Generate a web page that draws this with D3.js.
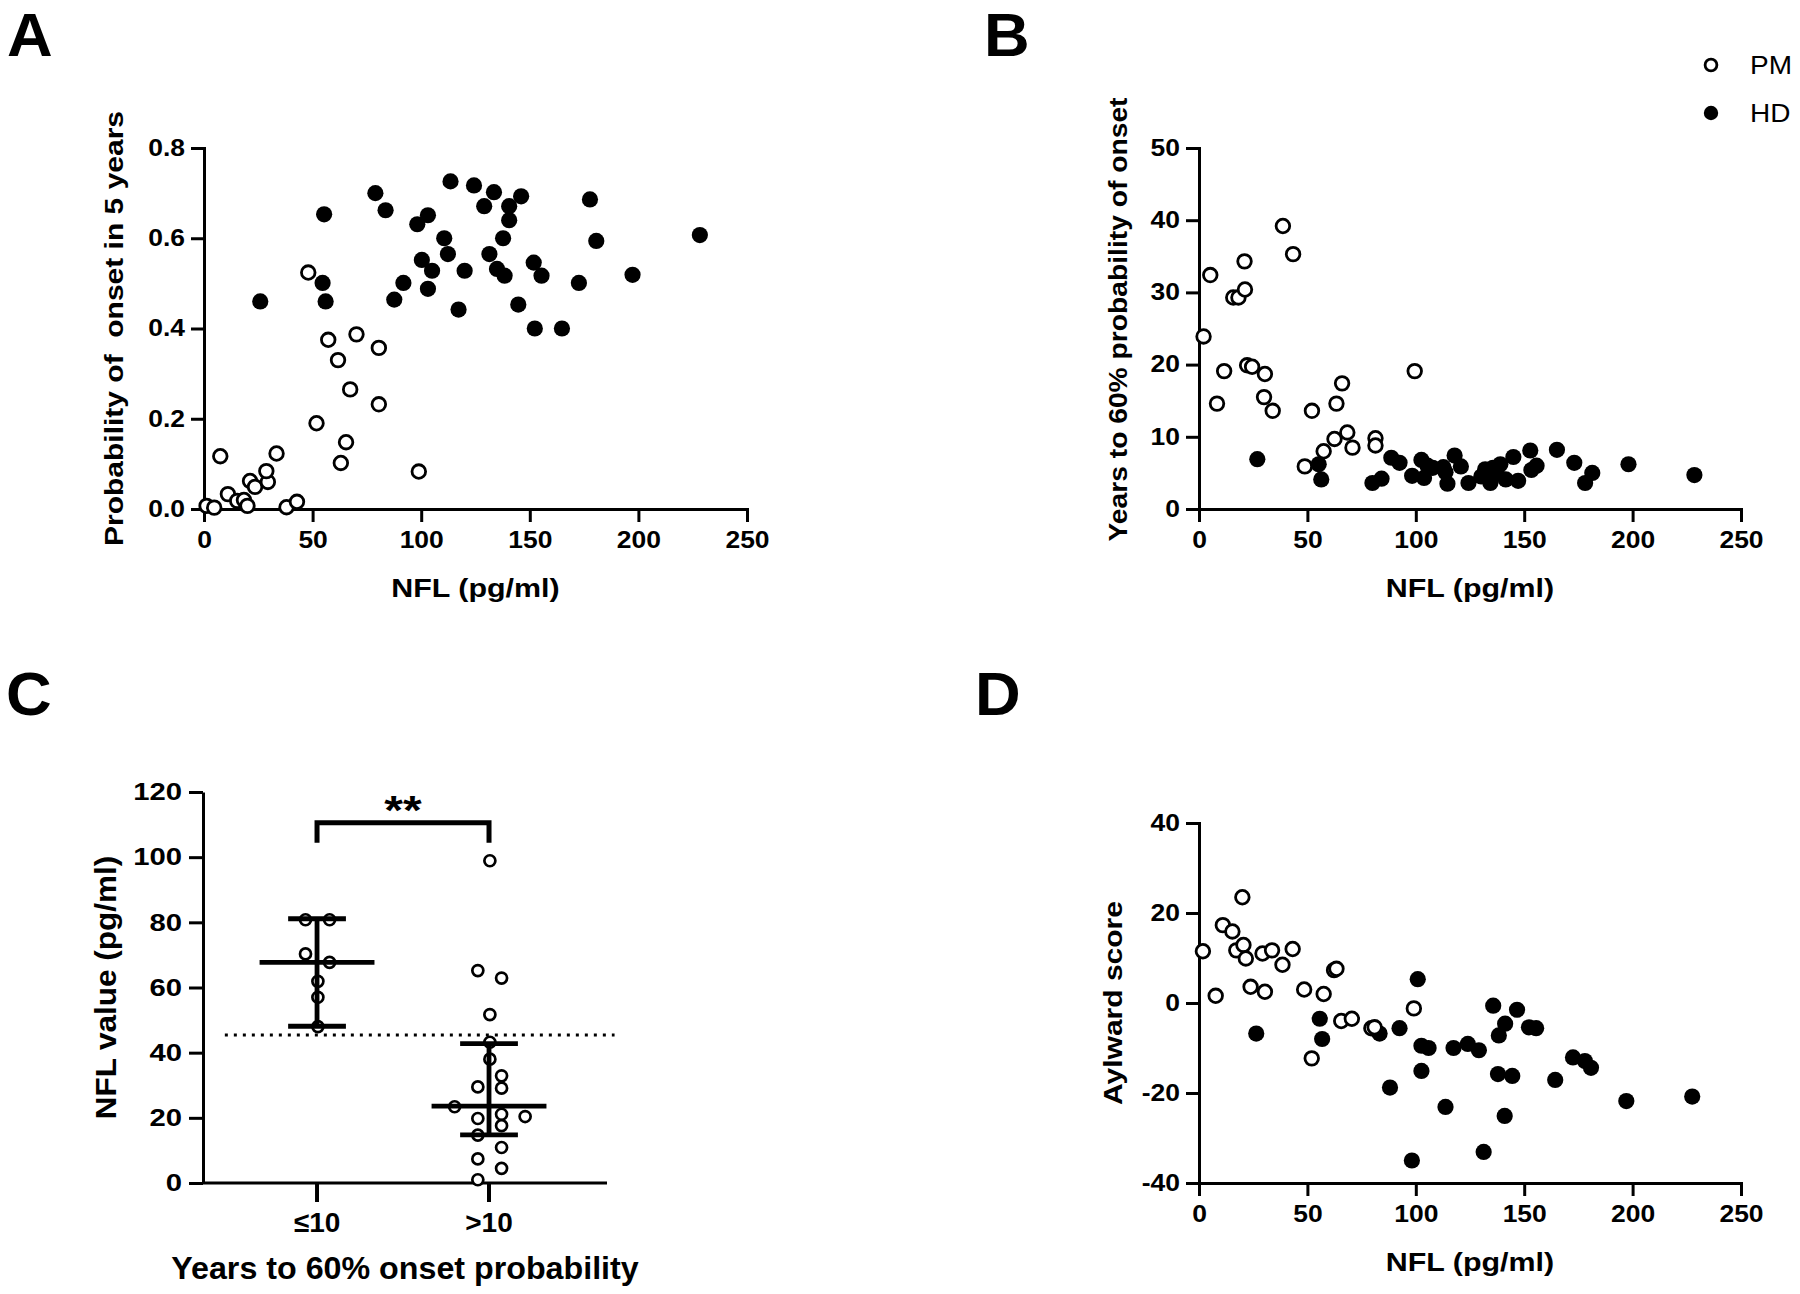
<!DOCTYPE html>
<html><head><meta charset="utf-8">
<script src="https://cdn.jsdelivr.net/npm/d3@7"></script>
<style>body{margin:0;background:#fff}svg{display:block}</style>
</head><body>
<script>
// ---------- DATA ----------
// Panel A: probability of onset in 5 years vs NFL
const aPM_nfl  = [1.2,4.7,7.5,11,15.3,18.4,20,21.2,23.5,29.4,28.7,33.4,38,42.8,48,51.8,57.2,61.7,63,65.4,67.3,70.2,80.5,80.5,98.9];
const aPM_prob = [0.007,0.003,0.117,0.033,0.018,0.02,0.007,0.062,0.049,0.06,0.084,0.123,0.004,0.016,0.524,0.19,0.375,0.33,0.102,0.148,0.265,0.387,0.357,0.232,0.083];
const aHD_nfl  = [25.9,55.3,54.6,56,78.9,83.6,87.6,91.8,98.2,103.1,100.3,105,103.1,110.6,112.3,113.5,117.2,120,124.3,129,131.4,133.5,134.9,138.4,137.7,140.5,140.5,146,144.7,151.8,152.3,155.4,164.8,172.6,177.7,180.6,197.3,228.3];
const aHD_prob = [0.46,0.653,0.501,0.46,0.70,0.662,0.464,0.501,0.631,0.651,0.552,0.528,0.488,0.60,0.565,0.726,0.442,0.528,0.717,0.671,0.565,0.702,0.532,0.517,0.60,0.671,0.64,0.693,0.453,0.546,0.40,0.517,0.40,0.501,0.686,0.594,0.519,0.607];

// Panel B: years to 60% probability of onset vs NFL
const bPM_nfl   = [2.1,5.2,8.3,11.6,15.8,18.2,21,21.2,22.2,24.5,30.4,30,34,38.7,43.4,48.8,52.1,57.5,62.5,63.4,66,68.4,70.8,81.4,81.4,99.5];
const bPM_years = [23.9,32.4,14.6,19.1,29.3,29.3,34.3,30.4,19.9,19.7,18.7,15.5,13.6,39.2,35.3,5.9,13.6,8.0,9.7,14.6,17.4,10.6,8.5,9.8,8.8,19.1];
const bHD_nfl   = [26.9,55.2,56.4,80,84.2,88.7,92.5,98.3,102.6,103.8,105.4,107.8,112.7,113.7,114.6,117.9,120.8,124.3,130.2,132,134.4,135.6,137.3,139,141.5,145,147.2,152.8,153.3,155.7,165.1,173.1,178.1,181.4,198.1,228.5];
const bHD_years = [6.9,6.2,4.1,3.6,4.2,7.1,6.4,4.6,6.8,4.3,6.0,5.7,5.8,5.1,3.5,7.4,5.9,3.6,4.5,5.5,3.6,5.7,5.1,6.2,4.1,7.2,3.9,8.1,5.4,6.0,8.2,6.4,3.6,5.0,6.2,4.7];

// Panel C: NFL value by years to 60% onset probability
const cGroups       = ["\u226410", ">10"];
const cLow_values   = [80.8,80.8,70.3,67.7,61.9,57.0,48.0];
const cLow_jitter   = [-0.067,0.073,-0.067,0.073,0.005,0.005,0.005];
const cHigh_values  = [98.9,65.2,62.9,51.7,43.2,38.0,32.9,29.5,29.1,23.4,19.8,21.1,20.4,17.6,14.7,10.9,7.4,4.5,1.0];
const cHigh_jitter  = [0.005,-0.065,0.073,0.005,0.005,0.005,0.073,-0.065,0.073,-0.2,-0.065,0.073,0.21,0.073,-0.065,0.073,-0.065,0.073,-0.065];
const cMedian       = [67.7, 23.6];
const cLowerBar     = [48.1, 14.8];
const cUpperBar     = [81.1, 42.8];
const cThreshold    = 45.4;
const cBracketTop   = 110.6;
const cBracketEnd   = 104.4;
const cSignif       = "**";

// Panel D: Aylward score vs NFL
const dPM_nfl   = [1.8,7.7,11,15.4,17.2,20,20.5,21.6,23.8,29.3,30.4,33.7,38.5,43.2,48.5,52,57.5,62.3,63.4,65.6,70.5,79.5,81,99.1];
const dPM_score = [11.5,1.6,17.3,15.9,11.7,23.5,12.9,9.9,3.6,11.0,2.5,11.7,8.5,12.0,3.0,-12.3,2.0,7.3,7.6,-4.0,-3.5,-5.6,-5.4,-1.2];
const dHD_nfl   = [26.4,55.7,56.8,83.3,88.1,92.5,98.2,100.9,102.6,102.6,105.9,113.7,117.4,124,129.1,131.3,135.7,138.3,141.2,137.9,141,144.5,146.7,152.2,155.5,164.3,172.5,178,180.8,197.1,227.5];
const dHD_score = [-6.8,-3.5,-8.0,-6.8,-18.8,-5.6,-35.0,5.3,-9.5,-15.1,-10.0,-23.1,-10.0,-9.1,-10.5,-33.1,-0.6,-7.2,-4.6,-15.8,-25.1,-16.2,-1.5,-5.4,-5.6,-17.1,-12.1,-12.9,-14.4,-21.8,-20.8];

// ticks & labels
const nflTicks   = [0,50,100,150,200,250];
const aYTicks    = [0,0.2,0.4,0.6,0.8];
const bYTicks    = [0,10,20,30,40,50];
const cYTicks    = [0,20,40,60,80,100,120];
const dYTicks    = [-40,-20,0,20,40];
const legendLabels = ["PM","HD"];

// ---------- DRAW ----------
const W=1800,H=1294;
const FONT="'Liberation Sans', Arial, Helvetica, sans-serif";
const svg=d3.select("body").append("svg").attr("width",W).attr("height",H)
  .style("font-family",FONT);

// horizontal stretch of text (reference glyphs are wider than Arial)
function stretch(sel,sx,rot){
  sel.each(function(){
    const t=d3.select(this);
    const x=+t.attr("x")||0, y=+t.attr("y")||0;
    t.attr("x",0).attr("y",0)
     .attr("transform",`translate(${x},${y})${rot?` rotate(${rot})`:""} scale(${sx},1)`);
  });
}

function styleAxis(g,fs,sx){
  g.select(".domain").attr("stroke","#000").attr("stroke-width",3);
  g.selectAll(".tick line").attr("stroke","#000").attr("stroke-width",3);
  const t=g.selectAll(".tick text").attr("fill","#000").style("font-size",fs+"px")
    .style("font-weight","bold").style("font-family",FONT);
  stretch(t,sx);
}

const R_OPEN=6.8, R_FILL=8.1, SW=2.8;

function scatterPanel(o){
  const x=d3.scaleLinear().domain([0,250]).range(o.xr);
  const y=d3.scaleLinear().domain(o.yd).range(o.yr);
  const g=svg.append("g");
  const gx=g.append("g").attr("transform",`translate(0,${o.yr[0]})`)
    .call(d3.axisBottom(x).tickValues(nflTicks).tickSize(13).tickSizeOuter(0).tickPadding(10));
  styleAxis(gx,23,1.15);
  const gy=g.append("g").attr("transform",`translate(${o.xr[0]},0)`)
    .call(d3.axisLeft(y).tickValues(o.yt).tickSize(13).tickSizeOuter(0).tickPadding(6).tickFormat(o.fmt));
  styleAxis(gy,23,1.15);
  gx.select(".domain").attr("stroke-linecap","square");
  gy.select(".domain").attr("stroke-linecap","square");
  // HD filled
  g.append("g").selectAll("circle").data(d3.zip(o.hdx,o.hdy)).join("circle")
    .attr("cx",d=>x(d[0])).attr("cy",d=>y(d[1])).attr("r",R_FILL).attr("fill","#000");
  // PM open
  g.append("g").selectAll("circle").data(d3.zip(o.pmx,o.pmy)).join("circle")
    .attr("cx",d=>x(d[0])).attr("cy",d=>y(d[1])).attr("r",R_OPEN)
    .attr("fill","#fff").attr("stroke","#000").attr("stroke-width",SW);
  // titles
  const xt=g.append("text").attr("x",(o.xr[0]+o.xr[1])/2).attr("y",o.yr[0]+88)
    .attr("text-anchor","middle").style("font-size","26px").style("font-weight","bold").text("NFL (pg/ml)");
  stretch(xt,1.17);
  const yt=g.append("text").attr("x",o.ytx).attr("y",(o.yr[0]+o.yr[1])/2+o.ydy)
    .attr("text-anchor","middle").style("font-size","25px").style("font-weight","bold")
    .attr("xml:space","preserve").style("white-space","pre").text(o.ytitle);
  stretch(yt,o.ysx,-90);
}

scatterPanel({xr:[204,747],yr:[509,148],yd:[0,0.8],yt:aYTicks,fmt:d3.format(".1f"),
  pmx:aPM_nfl,pmy:aPM_prob,hdx:aHD_nfl,hdy:aHD_prob,ytx:123,ydy:0,ysx:1.2,ytitle:"Probability of  onset in 5 years"});
scatterPanel({xr:[1199,1741],yr:[509,148],yd:[0,50],yt:bYTicks,fmt:d=>String(d),
  pmx:bPM_nfl,pmy:bPM_years,hdx:bHD_nfl,hdy:bHD_years,ytx:1127,ydy:-9,ysx:1.13,ytitle:"Years to 60% probability of onset"});
scatterPanel({xr:[1199,1741],yr:[1183,823],yd:[-40,40],yt:dYTicks,fmt:d=>String(d),
  pmx:dPM_nfl,pmy:dPM_score,hdx:dHD_nfl,hdy:dHD_score,ytx:1122,ydy:0,ysx:1.2,ytitle:"Aylward score"});

// Legend (panel B)
const lg=svg.append("g");
lg.append("circle").attr("cx",1711).attr("cy",65).attr("r",5.9).attr("fill","#fff").attr("stroke","#000").attr("stroke-width",2.8);
lg.append("circle").attr("cx",1711).attr("cy",113).attr("r",7.2).attr("fill","#000");
const lt=lg.selectAll("text").data(legendLabels).join("text")
  .attr("x",1750).attr("y",(d,i)=>74+i*48).style("font-size","25px").text(d=>d);
stretch(lt,1.12);

// ---------- Panel C ----------
(function(){
  const x=d3.scaleLinear().domain([-0.663,1.686]).range([203,607]);
  const y=d3.scaleLinear().domain([0,120]).range([1183,792]);
  const g=svg.append("g");
  const gy=g.append("g").attr("transform",`translate(203,0)`)
    .call(d3.axisLeft(y).tickValues(cYTicks).tickSize(14).tickSizeOuter(0).tickPadding(7));
  styleAxis(gy,24,1.22);
  // x axis line
  g.append("line").attr("x1",x(-0.663)).attr("x2",x(1.686)).attr("y1",y(0)).attr("y2",y(0))
    .attr("stroke","#000").attr("stroke-width",3);
  // category ticks and labels
  cGroups.forEach((c,i)=>{
    g.append("line").attr("x1",x(i)).attr("x2",x(i)).attr("y1",y(0)).attr("y2",y(0)+19)
      .attr("stroke","#000").attr("stroke-width",4);
    g.append("text").attr("x",x(i)).attr("y",1232).attr("text-anchor","middle")
      .style("font-size","28px").style("font-weight","bold").text(c);
  });
  // threshold dotted line
  g.append("line").attr("x1",x(-0.536)).attr("x2",x(1.73)).attr("y1",y(cThreshold)).attr("y2",y(cThreshold))
    .attr("stroke","#000").attr("stroke-width",3).attr("stroke-dasharray","3,6");
  // points
  const groups=[[cLow_values,cLow_jitter],[cHigh_values,cHigh_jitter]];
  groups.forEach((gr,i)=>{
    g.append("g").selectAll("circle").data(d3.zip(gr[0],gr[1])).join("circle")
      .attr("cx",d=>x(i+d[1])).attr("cy",d=>y(d[0])).attr("r",5.5)
      .attr("fill","#fff").attr("stroke","#000").attr("stroke-width",2.7);
  });
  // median & bars
  const L=(x1,x2,y1,y2)=>g.append("line").attr("x1",x1).attr("x2",x2).attr("y1",y1).attr("y2",y2)
      .attr("stroke","#000").attr("stroke-width",4.8);
  cGroups.forEach((c,i)=>{
    L(x(i),x(i),y(cLowerBar[i]),y(cUpperBar[i]));
    L(x(i-0.334),x(i+0.334),y(cMedian[i]),y(cMedian[i]));
    L(x(i-0.168),x(i+0.168),y(cUpperBar[i]),y(cUpperBar[i]));
    L(x(i-0.168),x(i+0.168),y(cLowerBar[i]),y(cLowerBar[i]));
  });
  // significance bracket
  g.append("path").attr("d",`M${x(0)},${y(cBracketEnd)}V${y(cBracketTop)}H${x(1)}V${y(cBracketEnd)}`)
    .attr("fill","none").attr("stroke","#000").attr("stroke-width",5);
  const st=g.append("text").attr("x",x(0.5)).attr("y",y(cBracketTop)+1).attr("text-anchor","middle")
    .style("font-size","40px").style("font-weight","bold").text(cSignif);
  stretch(st,1.2);
  // titles
  const xt=g.append("text").attr("x",405).attr("y",1279).attr("text-anchor","middle")
    .style("font-size","31px").style("font-weight","bold").text("Years to 60% onset probability");
  stretch(xt,1.04);
  const yt=g.append("text").attr("x",116).attr("y",(792+1183)/2).attr("text-anchor","middle")
    .style("font-size","30px").style("font-weight","bold").text("NFL value (pg/ml)");
  stretch(yt,1.05,-90);
})();

// Panel letters
const letters=[["A",7,56],["B",984,56],["C",6,715],["D",975,715]];
const pl=svg.selectAll("text.pl").data(letters).join("text").attr("class","pl")
  .attr("x",d=>d[1]).attr("y",d=>d[2]).style("font-family",FONT)
  .style("font-size","62px").style("font-weight","bold").text(d=>d[0]);
stretch(pl,1.02);
</script>
</body></html>
